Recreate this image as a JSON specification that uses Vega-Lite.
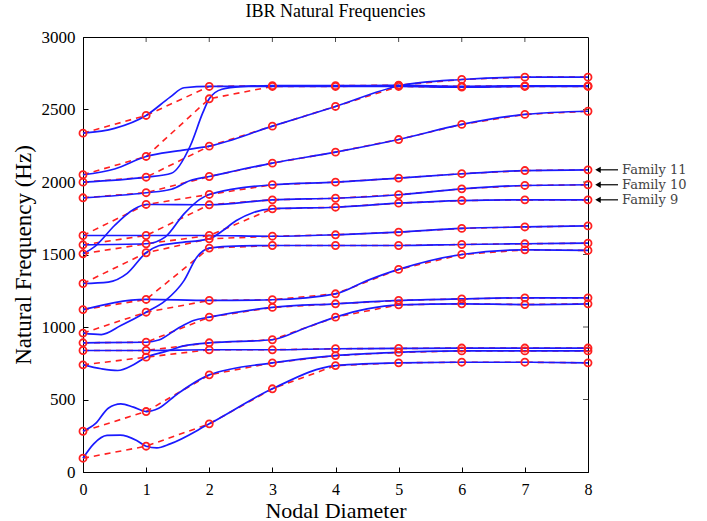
{
  "$schema": "https://vega.github.io/schema/vega-lite/v6.json",
  "width": 505,
  "height": 435,
  "autosize": {"type": "none"},
  "padding": {"left": 83, "top": 37, "right": 119, "bottom": 49},
  "background": "white",
  "config": {
    "view": {"stroke": "black", "strokeWidth": 1},
    "font": "Liberation Serif"
  },
  "title": {"text": "IBR Natural Frequencies", "font": "Liberation Serif", "fontSize": 18, "fontWeight": "normal", "color": "black", "offset": 7, "anchor": "middle"},
  "datasets": {
    "modes": [
      {"nd":0,"mode":1,"freq":95},{"nd":0,"mode":2,"freq":281},{"nd":0,"mode":3,"freq":739},{"nd":0,"mode":4,"freq":838},{"nd":0,"mode":5,"freq":891},{"nd":0,"mode":6,"freq":958},{"nd":0,"mode":7,"freq":1120},{"nd":0,"mode":8,"freq":1300},{"nd":0,"mode":9,"freq":1505},{"nd":0,"mode":10,"freq":1567},{"nd":0,"mode":11,"freq":1631},{"nd":0,"mode":12,"freq":1891},{"nd":0,"mode":13,"freq":1999},{"nd":0,"mode":14,"freq":2050},{"nd":0,"mode":15,"freq":2337},
      {"nd":1,"mode":1,"freq":178},{"nd":1,"mode":2,"freq":417},{"nd":1,"mode":3,"freq":792},{"nd":1,"mode":4,"freq":838},{"nd":1,"mode":5,"freq":895},{"nd":1,"mode":6,"freq":1102},{"nd":1,"mode":7,"freq":1190},{"nd":1,"mode":8,"freq":1512},{"nd":1,"mode":9,"freq":1574},{"nd":1,"mode":10,"freq":1631},{"nd":1,"mode":11,"freq":1845},{"nd":1,"mode":12,"freq":1926},{"nd":1,"mode":13,"freq":2033},{"nd":1,"mode":14,"freq":2176},{"nd":1,"mode":15,"freq":2459},
      {"nd":2,"mode":1,"freq":332},{"nd":2,"mode":2,"freq":670},{"nd":2,"mode":3,"freq":843},{"nd":2,"mode":4,"freq":891},{"nd":2,"mode":5,"freq":1068},{"nd":2,"mode":6,"freq":1183},{"nd":2,"mode":7,"freq":1544},{"nd":2,"mode":8,"freq":1608},{"nd":2,"mode":9,"freq":1631},{"nd":2,"mode":10,"freq":1843},{"nd":2,"mode":11,"freq":1914},{"nd":2,"mode":12,"freq":2038},{"nd":2,"mode":13,"freq":2247},{"nd":2,"mode":14,"freq":2574},{"nd":2,"mode":15,"freq":2659},
      {"nd":3,"mode":1,"freq":574},{"nd":3,"mode":2,"freq":753},{"nd":3,"mode":3,"freq":843},{"nd":3,"mode":4,"freq":912},{"nd":3,"mode":5,"freq":1135},{"nd":3,"mode":6,"freq":1188},{"nd":3,"mode":7,"freq":1562},{"nd":3,"mode":8,"freq":1626},{"nd":3,"mode":9,"freq":1815},{"nd":3,"mode":10,"freq":1877},{"nd":3,"mode":11,"freq":1981},{"nd":3,"mode":12,"freq":2130},{"nd":3,"mode":13,"freq":2385},{"nd":3,"mode":14,"freq":2659},{"nd":3,"mode":15,"freq":2664},
      {"nd":4,"mode":1,"freq":734},{"nd":4,"mode":2,"freq":803},{"nd":4,"mode":3,"freq":850},{"nd":4,"mode":4,"freq":1068},{"nd":4,"mode":5,"freq":1160},{"nd":4,"mode":6,"freq":1229},{"nd":4,"mode":7,"freq":1562},{"nd":4,"mode":8,"freq":1636},{"nd":4,"mode":9,"freq":1826},{"nd":4,"mode":10,"freq":1888},{"nd":4,"mode":11,"freq":1999},{"nd":4,"mode":12,"freq":2206},{"nd":4,"mode":13,"freq":2521},{"nd":4,"mode":14,"freq":2659},{"nd":4,"mode":15,"freq":2664},
      {"nd":5,"mode":1,"freq":753},{"nd":5,"mode":2,"freq":825},{"nd":5,"mode":3,"freq":852},{"nd":5,"mode":4,"freq":1153},{"nd":5,"mode":5,"freq":1183},{"nd":5,"mode":6,"freq":1397},{"nd":5,"mode":7,"freq":1562},{"nd":5,"mode":8,"freq":1654},{"nd":5,"mode":9,"freq":1854},{"nd":5,"mode":10,"freq":1912},{"nd":5,"mode":11,"freq":2027},{"nd":5,"mode":12,"freq":2293},{"nd":5,"mode":13,"freq":2659},{"nd":5,"mode":14,"freq":2664},{"nd":5,"mode":15,"freq":2668},
      {"nd":6,"mode":1,"freq":757},{"nd":6,"mode":2,"freq":835},{"nd":6,"mode":3,"freq":855},{"nd":6,"mode":4,"freq":1160},{"nd":6,"mode":5,"freq":1194},{"nd":6,"mode":6,"freq":1500},{"nd":6,"mode":7,"freq":1569},{"nd":6,"mode":8,"freq":1680},{"nd":6,"mode":9,"freq":1872},{"nd":6,"mode":10,"freq":1953},{"nd":6,"mode":11,"freq":2057},{"nd":6,"mode":12,"freq":2397},{"nd":6,"mode":13,"freq":2654},{"nd":6,"mode":14,"freq":2660},{"nd":6,"mode":15,"freq":2707},
      {"nd":7,"mode":1,"freq":757},{"nd":7,"mode":2,"freq":835},{"nd":7,"mode":3,"freq":855},{"nd":7,"mode":4,"freq":1155},{"nd":7,"mode":5,"freq":1201},{"nd":7,"mode":6,"freq":1532},{"nd":7,"mode":7,"freq":1574},{"nd":7,"mode":8,"freq":1690},{"nd":7,"mode":9,"freq":1877},{"nd":7,"mode":10,"freq":1976},{"nd":7,"mode":11,"freq":2079},{"nd":7,"mode":12,"freq":2466},{"nd":7,"mode":13,"freq":2659},{"nd":7,"mode":14,"freq":2663},{"nd":7,"mode":15,"freq":2723},
      {"nd":8,"mode":1,"freq":753},{"nd":8,"mode":2,"freq":835},{"nd":8,"mode":3,"freq":855},{"nd":8,"mode":4,"freq":1160},{"nd":8,"mode":5,"freq":1201},{"nd":8,"mode":6,"freq":1528},{"nd":8,"mode":7,"freq":1578},{"nd":8,"mode":8,"freq":1697},{"nd":8,"mode":9,"freq":1877},{"nd":8,"mode":10,"freq":1981},{"nd":8,"mode":11,"freq":2084},{"nd":8,"mode":12,"freq":2488},{"nd":8,"mode":13,"freq":2659},{"nd":8,"mode":14,"freq":2663},{"nd":8,"mode":15,"freq":2723}
    ],
    "families": [
      {"fam":1,"nd":0,"freq":95},{"fam":1,"nd":0.17,"freq":194},{"fam":1,"nd":0.38,"freq":252},{"fam":1,"nd":0.59,"freq":254},{"fam":1,"nd":0.85,"freq":217},{"fam":1,"nd":1,"freq":178},{"fam":1,"nd":1.17,"freq":167},{"fam":1,"nd":1.38,"freq":194},{"fam":1,"nd":2,"freq":332},{"fam":1,"nd":3,"freq":574},{"fam":1,"nd":4,"freq":734},{"fam":1,"nd":5,"freq":753},{"fam":1,"nd":6,"freq":757},{"fam":1,"nd":7,"freq":757},{"fam":1,"nd":8,"freq":753},
      {"fam":2,"nd":0,"freq":281},{"fam":2,"nd":0.2,"freq":335},{"fam":2,"nd":0.4,"freq":440},{"fam":2,"nd":0.6,"freq":470},{"fam":2,"nd":0.8,"freq":447},{"fam":2,"nd":1,"freq":417},{"fam":2,"nd":1.2,"freq":440},{"fam":2,"nd":1.5,"freq":540},{"fam":2,"nd":2,"freq":670},{"fam":2,"nd":3,"freq":753},{"fam":2,"nd":4,"freq":803},{"fam":2,"nd":5,"freq":825},{"fam":2,"nd":6,"freq":835},{"fam":2,"nd":7,"freq":835},{"fam":2,"nd":8,"freq":835},
      {"fam":3,"nd":0,"freq":838},{"fam":3,"nd":1,"freq":838},{"fam":3,"nd":2,"freq":843},{"fam":3,"nd":3,"freq":843},{"fam":3,"nd":4,"freq":850},{"fam":3,"nd":5,"freq":852},{"fam":3,"nd":6,"freq":855},{"fam":3,"nd":7,"freq":855},{"fam":3,"nd":8,"freq":855},
      {"fam":4,"nd":0,"freq":739},{"fam":4,"nd":0.29,"freq":712},{"fam":4,"nd":0.55,"freq":700},{"fam":4,"nd":0.8,"freq":740},{"fam":4,"nd":1,"freq":792},{"fam":4,"nd":1.3,"freq":830},{"fam":4,"nd":1.6,"freq":870},{"fam":4,"nd":2,"freq":891},{"fam":4,"nd":3,"freq":912},{"fam":4,"nd":3.5,"freq":990},{"fam":4,"nd":4,"freq":1068},{"fam":4,"nd":4.5,"freq":1125},{"fam":4,"nd":5,"freq":1153},{"fam":4,"nd":6,"freq":1160},{"fam":4,"nd":7,"freq":1155},{"fam":4,"nd":8,"freq":1160},
      {"fam":5,"nd":0,"freq":891},{"fam":5,"nd":1,"freq":895},{"fam":5,"nd":1.2,"freq":910},{"fam":5,"nd":1.5,"freq":990},{"fam":5,"nd":1.75,"freq":1045},{"fam":5,"nd":2,"freq":1068},{"fam":5,"nd":3,"freq":1135},{"fam":5,"nd":4,"freq":1160},{"fam":5,"nd":5,"freq":1183},{"fam":5,"nd":6,"freq":1194},{"fam":5,"nd":7,"freq":1201},{"fam":5,"nd":8,"freq":1201},
      {"fam":6,"nd":0,"freq":1120},{"fam":6,"nd":1,"freq":1190},{"fam":6,"nd":2,"freq":1183},{"fam":6,"nd":3,"freq":1188},{"fam":6,"nd":4,"freq":1229},{"fam":6,"nd":4.5,"freq":1320},{"fam":6,"nd":5,"freq":1397},{"fam":6,"nd":6,"freq":1500},{"fam":6,"nd":7,"freq":1532},{"fam":6,"nd":8,"freq":1528},
      {"fam":7,"nd":0,"freq":958},{"fam":7,"nd":0.29,"freq":948},{"fam":7,"nd":0.6,"freq":1010},{"fam":7,"nd":1,"freq":1102},{"fam":7,"nd":1.3,"freq":1180},{"fam":7,"nd":1.6,"freq":1320},{"fam":7,"nd":1.8,"freq":1480},{"fam":7,"nd":2,"freq":1544},{"fam":7,"nd":2.3,"freq":1556},{"fam":7,"nd":3,"freq":1562},{"fam":7,"nd":4,"freq":1562},{"fam":7,"nd":5,"freq":1562},{"fam":7,"nd":6,"freq":1569},{"fam":7,"nd":7,"freq":1574},{"fam":7,"nd":8,"freq":1578},
      {"fam":8,"nd":0,"freq":1631},{"fam":8,"nd":1,"freq":1631},{"fam":8,"nd":2,"freq":1631},{"fam":8,"nd":3,"freq":1626},{"fam":8,"nd":4,"freq":1636},{"fam":8,"nd":5,"freq":1654},{"fam":8,"nd":6,"freq":1680},{"fam":8,"nd":7,"freq":1690},{"fam":8,"nd":8,"freq":1697},
      {"fam":9,"nd":0,"freq":1300},{"fam":9,"nd":0.4,"freq":1310},{"fam":9,"nd":0.7,"freq":1370},{"fam":9,"nd":1,"freq":1512},{"fam":9,"nd":1.2,"freq":1560},{"fam":9,"nd":1.5,"freq":1580},{"fam":9,"nd":2,"freq":1608},{"fam":9,"nd":2.2,"freq":1660},{"fam":9,"nd":2.43,"freq":1734},{"fam":9,"nd":2.7,"freq":1790},{"fam":9,"nd":3,"freq":1815},{"fam":9,"nd":4,"freq":1826},{"fam":9,"nd":5,"freq":1854},{"fam":9,"nd":6,"freq":1872},{"fam":9,"nd":7,"freq":1877},{"fam":9,"nd":8,"freq":1877},
      {"fam":10,"nd":0,"freq":1505},{"fam":10,"nd":0.2,"freq":1560},{"fam":10,"nd":0.5,"freq":1700},{"fam":10,"nd":0.8,"freq":1810},{"fam":10,"nd":1,"freq":1845},{"fam":10,"nd":2,"freq":1843},{"fam":10,"nd":3,"freq":1877},{"fam":10,"nd":4,"freq":1888},{"fam":10,"nd":5,"freq":1912},{"fam":10,"nd":6,"freq":1953},{"fam":10,"nd":7,"freq":1976},{"fam":10,"nd":8,"freq":1981},
      {"fam":11,"nd":0,"freq":1567},{"fam":11,"nd":1,"freq":1574},{"fam":11,"nd":1.3,"freq":1620},{"fam":11,"nd":1.6,"freq":1780},{"fam":11,"nd":1.85,"freq":1880},{"fam":11,"nd":2,"freq":1914},{"fam":11,"nd":3,"freq":1981},{"fam":11,"nd":4,"freq":1999},{"fam":11,"nd":5,"freq":2027},{"fam":11,"nd":6,"freq":2057},{"fam":11,"nd":7,"freq":2079},{"fam":11,"nd":8,"freq":2084},
      {"fam":12,"nd":0,"freq":1891},{"fam":12,"nd":1,"freq":1926},{"fam":12,"nd":1.4,"freq":1950},{"fam":12,"nd":1.7,"freq":2010},{"fam":12,"nd":2,"freq":2038},{"fam":12,"nd":3,"freq":2130},{"fam":12,"nd":4,"freq":2206},{"fam":12,"nd":5,"freq":2293},{"fam":12,"nd":6,"freq":2397},{"fam":12,"nd":7,"freq":2466},{"fam":12,"nd":8,"freq":2488},
      {"fam":13,"nd":0,"freq":2050},{"fam":13,"nd":0.5,"freq":2090},{"fam":13,"nd":1,"freq":2176},{"fam":13,"nd":1.5,"freq":2215},{"fam":13,"nd":2,"freq":2247},{"fam":13,"nd":3,"freq":2385},{"fam":13,"nd":4,"freq":2521},{"fam":13,"nd":5,"freq":2662},{"fam":13,"nd":6,"freq":2707},{"fam":13,"nd":7,"freq":2723},{"fam":13,"nd":8,"freq":2723},
      {"fam":14,"nd":0,"freq":1999},{"fam":14,"nd":1,"freq":2033},{"fam":14,"nd":1.4,"freq":2060},{"fam":14,"nd":1.7,"freq":2250},{"fam":14,"nd":1.9,"freq":2480},{"fam":14,"nd":2,"freq":2574},{"fam":14,"nd":2.2,"freq":2640},{"fam":14,"nd":2.5,"freq":2658},{"fam":14,"nd":3,"freq":2664},{"fam":14,"nd":4,"freq":2664},{"fam":14,"nd":5,"freq":2666},{"fam":14,"nd":6,"freq":2660},{"fam":14,"nd":7,"freq":2663},{"fam":14,"nd":8,"freq":2663},
      {"fam":15,"nd":0,"freq":2337},{"fam":15,"nd":0.5,"freq":2370},{"fam":15,"nd":1,"freq":2459},{"fam":15,"nd":1.38,"freq":2585},{"fam":15,"nd":1.6,"freq":2650},{"fam":15,"nd":2,"freq":2659},{"fam":15,"nd":3,"freq":2659},{"fam":15,"nd":4,"freq":2659},{"fam":15,"nd":5,"freq":2659},{"fam":15,"nd":6,"freq":2654},{"fam":15,"nd":7,"freq":2659},{"fam":15,"nd":8,"freq":2659}
    ],
    "labels": [
      {"nd":8,"freq":2084,"label":"Family 11"},
      {"nd":8,"freq":1981,"label":"Family 10"},
      {"nd":8,"freq":1877,"label":"Family 9"}
    ],
    "xticks": [{"nd":1},{"nd":2},{"nd":3},{"nd":4},{"nd":5},{"nd":6},{"nd":7}],
    "yticks": [{"freq":500},{"freq":1000},{"freq":1500},{"freq":2000},{"freq":2500}]
  },
  "layer": [
    {
      "data": {"name": "modes"},
      "mark": {"type": "line", "color": "#ff2020", "strokeWidth": 1.6, "strokeDash": [6, 5]},
      "encoding": {
        "x": {"field": "nd", "type": "quantitative", "scale": {"domain": [0, 8], "nice": false},
          "axis": {"title": "Nodal Diameter", "titleFont": "Liberation Serif", "titleFontSize": 22, "titleFontWeight": "normal", "titleColor": "black", "titlePadding": 3, "labelFont": "Liberation Serif", "labelFontSize": 16, "labelColor": "black", "labelPadding": 14, "values": [0,1,2,3,4,5,6,7,8], "format": "d", "labelOverlap": false, "grid": false, "tickSize": -5, "tickColor": "black", "domainColor": "black", "labelFlush": false}},
        "y": {"field": "freq", "type": "quantitative", "scale": {"domain": [0, 3000], "nice": false},
          "axis": {"title": "Natural Frequency (Hz)", "titleFont": "Liberation Serif", "titleFontSize": 23, "titleFontWeight": "normal", "titleColor": "black", "titlePadding": 6, "labelFont": "Liberation Serif", "labelFontSize": 17, "labelColor": "black", "labelPadding": 13, "values": [0,500,1000,1500,2000,2500,3000], "format": "d", "labelOverlap": false, "grid": false, "tickSize": -5, "tickColor": "black", "domainColor": "black", "labelFlush": false}},
        "detail": {"field": "mode"}
      }
    },
    {
      "data": {"name": "xticks"},
      "mark": {"type": "tick", "orient": "vertical", "color": "black", "size": 5, "thickness": 1, "yOffset": 2.5},
      "encoding": {
        "x": {"field": "nd", "type": "quantitative"},
        "y": {"datum": 3000, "type": "quantitative"}
      }
    },
    {
      "data": {"name": "yticks"},
      "mark": {"type": "tick", "orient": "horizontal", "color": "black", "size": 5, "thickness": 1, "xOffset": -2.5},
      "encoding": {
        "x": {"datum": 8, "type": "quantitative"},
        "y": {"field": "freq", "type": "quantitative"}
      }
    },
    {
      "data": {"name": "families"},
      "mark": {"type": "line", "color": "#1a1aff", "strokeWidth": 1.7, "interpolate": "monotone"},
      "encoding": {
        "x": {"field": "nd", "type": "quantitative"},
        "y": {"field": "freq", "type": "quantitative"},
        "detail": {"field": "fam"}
      }
    },
    {
      "data": {"name": "modes"},
      "mark": {"type": "point", "shape": "circle", "filled": false, "color": "#ff2020", "size": 50, "strokeWidth": 1.8, "opacity": 1},
      "encoding": {
        "x": {"field": "nd", "type": "quantitative"},
        "y": {"field": "freq", "type": "quantitative"}
      }
    },
    {
      "data": {"name": "labels"},
      "mark": {"type": "rule", "color": "black", "strokeWidth": 1.2, "xOffset": 9, "x2Offset": 30, "clip": false},
      "encoding": {
        "x": {"field": "nd", "type": "quantitative"},
        "x2": {"field": "nd"},
        "y": {"field": "freq", "type": "quantitative"}
      }
    },
    {
      "data": {"name": "labels"},
      "mark": {"type": "point", "shape": "triangle-left", "filled": true, "color": "black", "size": 40, "xOffset": 10, "opacity": 1, "clip": false},
      "encoding": {
        "x": {"field": "nd", "type": "quantitative"},
        "y": {"field": "freq", "type": "quantitative"}
      }
    },
    {
      "data": {"name": "labels"},
      "mark": {"type": "text", "align": "left", "baseline": "middle", "dx": 34, "font": "DejaVu Serif", "fontSize": 13, "letterSpacing": 2.2, "color": "#444444", "clip": false},
      "encoding": {
        "x": {"field": "nd", "type": "quantitative"},
        "y": {"field": "freq", "type": "quantitative"},
        "text": {"field": "label"}
      }
    }
  ]
}
